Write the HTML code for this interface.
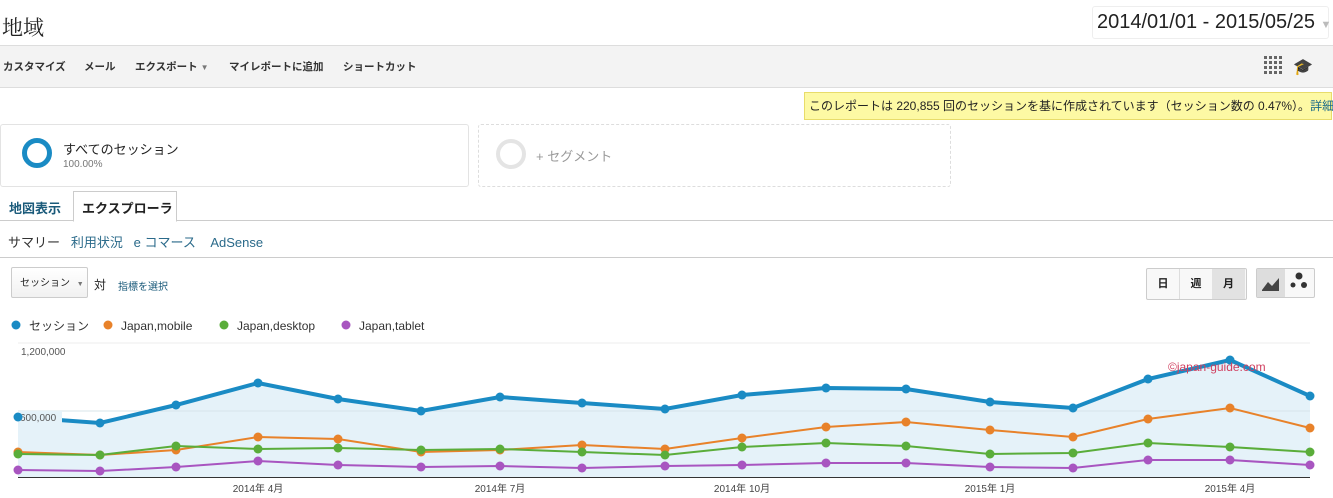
<!DOCTYPE html>
<html><head><meta charset="utf-8"><style>
body{margin:0;width:1333px;height:498px;overflow:hidden;background:#fff;font-family:"Liberation Sans","Noto Sans CJK JP",sans-serif;position:relative;color:#222}
.a{position:absolute;white-space:nowrap}
.t{position:absolute;top:59px;font-size:10.5px;font-weight:bold;color:#333}
</style></head><body>
<div class="a" style="left:2px;top:12px;font-size:21px;font-family:'Liberation Serif','Noto Serif CJK SC',serif">地域</div>
<div class="a" style="left:1092px;top:6px;width:231px;height:31px;border:1px solid #eee;border-radius:3px;font-size:20px;line-height:31px;padding-left:4px">2014/01/01 - 2015/05/25 <span style="color:#bbb;font-size:11px">▼</span></div>
<div class="a" style="left:0;top:45px;width:1333px;height:41px;background:#f3f3f3;border-top:1px solid #ddd;border-bottom:1px solid #ddd"></div>
<div class="t" style="left:3px">カスタマイズ</div>
<div class="t" style="left:84px">メール</div>
<div class="t" style="left:135px">エクスポート <span style="color:#777;font-size:8px">▼</span></div>
<div class="t" style="left:229px">マイレポートに追加</div>
<div class="t" style="left:343px">ショートカット</div>
<div class="a" style="left:1264px;top:56px;width:18px;height:18px;background:repeating-linear-gradient(90deg,#666 0 3px,transparent 3px 5px);-webkit-mask:repeating-linear-gradient(0deg,#000 0 3px,transparent 3px 5px)"></div>
<div class="a" style="left:1293px;top:57px;font-size:16px;color:#333">🎓</div>
<div class="a" style="left:804px;top:92px;width:522px;height:26px;background:#fdf9a4;border:1px solid #e8dc6a;font-size:12px;line-height:26px;padding-left:4px">このレポートは 220,855 回のセッションを基に作成されています（セッション数の 0.47%）。<span style="color:#1a6a8a">詳細</span></div>
<div class="a" style="left:0;top:124px;width:467px;height:61px;border:1px solid #e3e3e3;border-radius:3px"></div>
<div class="a" style="left:22px;top:138px;width:30px;height:30px;border:5px solid #1a8bc4;border-radius:50%;box-sizing:border-box"></div>
<div class="a" style="left:63px;top:139px;font-size:13px">すべてのセッション</div>
<div class="a" style="left:63px;top:159px;font-size:10px;color:#777">100.00%</div>
<div class="a" style="left:478px;top:124px;width:471px;height:61px;border:1px dashed #ddd;border-radius:3px"></div>
<div class="a" style="left:496px;top:139px;width:30px;height:30px;border:4px solid #e4e4e4;border-radius:50%;box-sizing:border-box"></div>
<div class="a" style="left:536px;top:146px;font-size:13px;color:#999">+ セグメント</div>
<div class="a" style="left:0;top:220px;width:1333px;border-top:1px solid #ccc"></div>
<div class="a" style="left:73px;top:191px;width:102px;height:29px;border:1px solid #ccc;border-bottom:1px solid #fff;background:#fff"></div>
<div class="a" style="left:9px;top:198px;font-size:13px;font-weight:bold;color:#1a5a7a">地図表示</div>
<div class="a" style="left:82px;top:198px;font-size:13px;font-weight:bold;color:#222">エクスプローラ</div>
<div class="a" style="left:8px;top:232px;font-size:13px;color:#333">サマリー&nbsp;&nbsp;&nbsp;<span style="color:#2a6a8a">利用状況&nbsp;&nbsp;&nbsp;e コマース&nbsp;&nbsp;&nbsp;&nbsp;AdSense</span></div>
<div class="a" style="left:0;top:257px;width:1333px;border-top:1px solid #ccc"></div>
<div class="a" style="left:11px;top:267px;width:77px;height:31px;border:1px solid #ccc;border-radius:2px;background:linear-gradient(#fff,#f1f1f1);font-size:10px;line-height:31px;padding-left:8px;box-sizing:border-box">セッション <span style="color:#777;font-size:7px;margin-left:4px">▼</span></div>
<div class="a" style="left:94px;top:276px;font-size:12px">対</div>
<div class="a" style="left:118px;top:278px;font-size:10px;color:#1a5a7a">指標を選択</div>
<div class="a" style="left:1146px;top:268px;width:99px;height:30px;border:1px solid #ccc;border-radius:2px;background:#f8f8f8;font-size:11px;font-weight:bold;line-height:30px">
<span style="display:inline-block;width:32px;text-align:center;border-right:1px solid #ddd">日</span><span style="display:inline-block;width:32px;text-align:center">週</span><span style="display:inline-block;width:33px;text-align:center;background:#e2e2e2">月</span></div>
<div class="a" style="left:1256px;top:268px;width:57px;height:28px;border:1px solid #ccc;border-radius:2px;background:#f8f8f8"><div style="width:28px;height:28px;background:#ddd"></div></div>
<svg class="a" style="left:0;top:0" width="1333" height="498">
<path d="M1262 290 L1268 282 L1272 286 L1279 278 L1279 291 L1262 291Z" fill="#444"/>
<circle cx="1299" cy="276" r="3.5" fill="#333"/><circle cx="1293" cy="285" r="2.5" fill="#333"/><circle cx="1304" cy="285" r="3" fill="#333"/>
<g font-size="12" fill="#333">
<circle cx="16" cy="325" r="4.5" fill="#1a8bc4"/><text x="29" y="330">セッション</text>
<circle cx="108" cy="325" r="4.5" fill="#e8822a"/><text x="121" y="330">Japan,mobile</text>
<circle cx="224" cy="325" r="4.5" fill="#5aad3a"/><text x="237" y="330">Japan,desktop</text>
<circle cx="346" cy="325" r="4.5" fill="#a855c0"/><text x="359" y="330">Japan,tablet</text>
</g>
<line x1="18" y1="343" x2="1310" y2="343" stroke="#eee"/>
<text x="21" y="355" font-size="10" fill="#555">1,200,000</text>
<path d="M18 417 L100 423 L176 405 L258 383 L338 399 L421 411 L500 397 L582 403 L665 409 L742 395 L826 388 L906 389 L990 402 L1073 408 L1148 379 L1230 360 L1310 396 L1310 477 L18 477Z" fill="#e5f2f9"/>
<line x1="18" y1="411" x2="1310" y2="411" stroke="#d8e4ea"/>
<polyline fill="none" stroke="#1a8bc4" stroke-width="4" points="18,417 100,423 176,405 258,383 338,399 421,411 500,397 582,403 665,409 742,395 826,388 906,389 990,402 1073,408 1148,379 1230,360 1310,396"/>
<rect x="20" y="411" width="42" height="12" fill="#e5f2f9"/>
<text x="20" y="421" font-size="10" fill="#555">600,000</text>
<polyline fill="none" stroke="#e8822a" stroke-width="2" points="18,452 100,455 176,450 258,437 338,439 421,452 500,450 582,445 665,449 742,438 826,427 906,422 990,430 1073,437 1148,419 1230,408 1310,428"/>
<polyline fill="none" stroke="#5aad3a" stroke-width="2" points="18,454 100,455 176,446 258,449 338,448 421,450 500,449 582,452 665,455 742,447 826,443 906,446 990,454 1073,453 1148,443 1230,447 1310,452"/>
<polyline fill="none" stroke="#a855c0" stroke-width="2" points="18,470 100,471 176,467 258,461 338,465 421,467 500,466 582,468 665,466 742,465 826,463 906,463 990,467 1073,468 1148,460 1230,460 1310,465"/>
<g fill="#1a8bc4"><circle cx="18" cy="417" r="4.5"/><circle cx="100" cy="423" r="4.5"/><circle cx="176" cy="405" r="4.5"/><circle cx="258" cy="383" r="4.5"/><circle cx="338" cy="399" r="4.5"/><circle cx="421" cy="411" r="4.5"/><circle cx="500" cy="397" r="4.5"/><circle cx="582" cy="403" r="4.5"/><circle cx="665" cy="409" r="4.5"/><circle cx="742" cy="395" r="4.5"/><circle cx="826" cy="388" r="4.5"/><circle cx="906" cy="389" r="4.5"/><circle cx="990" cy="402" r="4.5"/><circle cx="1073" cy="408" r="4.5"/><circle cx="1148" cy="379" r="4.5"/><circle cx="1230" cy="360" r="4.5"/><circle cx="1310" cy="396" r="4.5"/></g>
<g fill="#e8822a"><circle cx="18" cy="452" r="4.5"/><circle cx="100" cy="455" r="4.5"/><circle cx="176" cy="450" r="4.5"/><circle cx="258" cy="437" r="4.5"/><circle cx="338" cy="439" r="4.5"/><circle cx="421" cy="452" r="4.5"/><circle cx="500" cy="450" r="4.5"/><circle cx="582" cy="445" r="4.5"/><circle cx="665" cy="449" r="4.5"/><circle cx="742" cy="438" r="4.5"/><circle cx="826" cy="427" r="4.5"/><circle cx="906" cy="422" r="4.5"/><circle cx="990" cy="430" r="4.5"/><circle cx="1073" cy="437" r="4.5"/><circle cx="1148" cy="419" r="4.5"/><circle cx="1230" cy="408" r="4.5"/><circle cx="1310" cy="428" r="4.5"/></g>
<g fill="#5aad3a"><circle cx="18" cy="454" r="4.5"/><circle cx="100" cy="455" r="4.5"/><circle cx="176" cy="446" r="4.5"/><circle cx="258" cy="449" r="4.5"/><circle cx="338" cy="448" r="4.5"/><circle cx="421" cy="450" r="4.5"/><circle cx="500" cy="449" r="4.5"/><circle cx="582" cy="452" r="4.5"/><circle cx="665" cy="455" r="4.5"/><circle cx="742" cy="447" r="4.5"/><circle cx="826" cy="443" r="4.5"/><circle cx="906" cy="446" r="4.5"/><circle cx="990" cy="454" r="4.5"/><circle cx="1073" cy="453" r="4.5"/><circle cx="1148" cy="443" r="4.5"/><circle cx="1230" cy="447" r="4.5"/><circle cx="1310" cy="452" r="4.5"/></g>
<g fill="#a855c0"><circle cx="18" cy="470" r="4.5"/><circle cx="100" cy="471" r="4.5"/><circle cx="176" cy="467" r="4.5"/><circle cx="258" cy="461" r="4.5"/><circle cx="338" cy="465" r="4.5"/><circle cx="421" cy="467" r="4.5"/><circle cx="500" cy="466" r="4.5"/><circle cx="582" cy="468" r="4.5"/><circle cx="665" cy="466" r="4.5"/><circle cx="742" cy="465" r="4.5"/><circle cx="826" cy="463" r="4.5"/><circle cx="906" cy="463" r="4.5"/><circle cx="990" cy="467" r="4.5"/><circle cx="1073" cy="468" r="4.5"/><circle cx="1148" cy="460" r="4.5"/><circle cx="1230" cy="460" r="4.5"/><circle cx="1310" cy="465" r="4.5"/></g>
<line x1="18" y1="477.5" x2="1310" y2="477.5" stroke="#333"/>
<text x="1168" y="371" font-size="12" fill="#d04060">©japan-guide.com</text>
<g font-size="10" fill="#444" text-anchor="middle">
<text x="258" y="492">2014年 4月</text><text x="500" y="492">2014年 7月</text><text x="742" y="492">2014年 10月</text><text x="990" y="492">2015年 1月</text><text x="1230" y="492">2015年 4月</text></g>
</svg>
</body></html>
